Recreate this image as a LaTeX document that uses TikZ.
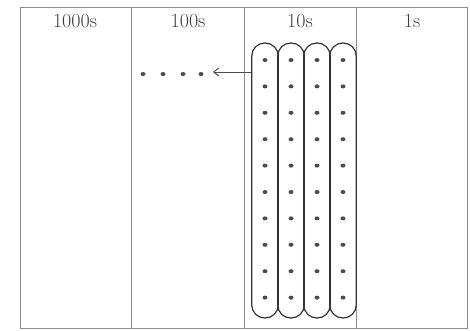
\documentclass[tikz,border=0pt]{standalone}
\usepackage{tikz}
\usetikzlibrary{arrows.meta,positioning,shapes.geometric}

\begin{document}
\begin{tikzpicture}[x=1pt,y=-1pt,
  frame/.style={draw=black!45, line width=0.8pt},
  colhead/.style={font=\fontsize{20}{22}\selectfont, text=black!75},
  tenloop/.style={draw=black!80, line width=1.2pt, rounded corners=13pt,
    minimum width=26.5pt, minimum height=275pt, inner sep=0pt},
  dot/.style={ellipse, fill=black!70, minimum width=5pt, minimum height=4pt, inner sep=0pt}]
\useasboundingbox (0,0) rectangle (470,330);
% place value chart
\draw[frame] (20,7) rectangle (467,328);
\foreach \x in {131,244,356}
  \draw[frame] (\x,7) -- (\x,328);
\node[colhead] (thousands) at (75,21) {1000s};
\node[colhead] (hundreds) at (188,21) {100s};
\node[colhead] (tens) at (300,21) {10s};
\node[colhead] (ones) at (412,21) {1s};
% four groups of ten
\foreach \x [count=\i] in {265,291,317,343} {
  \node[tenloop] (loop\i) at (\x,180.5) {};
  \foreach \j in {0,...,9}
    \node[dot] (d\i-\j) at (\x,60+26.4*\j) {};
}
% regrouped into hundreds
\foreach \x [count=\i] in {143,163,183,201}
  \node[dot] (h\i) at (\x,74) {};
\coordinate (tip) at (213,72);
\draw[-{Straight Barb[length=5pt,width=8pt]}, black!70, line width=0.9pt]
  (loop1.west |- tip) -- (tip);
\end{tikzpicture}
\end{document}
